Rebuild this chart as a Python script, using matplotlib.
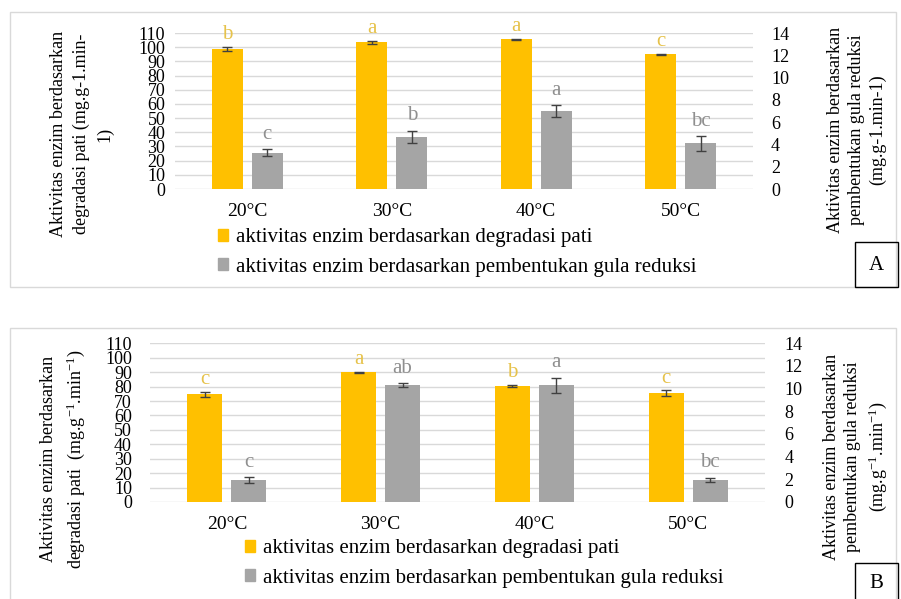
import matplotlib
matplotlib.use("Agg")
import matplotlib.pyplot as plt
from matplotlib.patches import Rectangle, Patch

plt.rcParams['font.family'] = ['Liberation Serif', 'DejaVu Serif']
plt.rcParams['mathtext.fontset'] = 'custom'
plt.rcParams['mathtext.rm'] = 'Liberation Serif'
plt.rcParams['mathtext.it'] = 'Liberation Serif:italic'
plt.rcParams['mathtext.default'] = 'rm'

# ---------------- data ----------------
categories = ["20°C", "30°C", "40°C", "50°C"]

a_starch = [98.7, 103.4, 105.5, 95.0]
a_starch_err = [1.5, 1.3, 0.4, 0.5]
a_sugar = [3.25, 4.7, 7.0, 4.1]
a_sugar_err = [0.3, 0.55, 0.5, 0.65]
a_starch_letters = ["b", "a", "a", "c"]
a_sugar_letters = ["c", "b", "a", "bc"]

b_starch = [74.6, 89.9, 80.4, 75.5]
b_starch_err = [1.8, 0.5, 1.0, 1.9]
b_sugar = [1.95, 10.3, 10.3, 1.97]
b_sugar_err = [0.24, 0.16, 0.66, 0.18]
b_starch_letters = ["c", "a", "b", "c"]
b_sugar_letters = ["c", "ab", "a", "bc"]

left_ticks = list(range(0, 111, 10))
right_ticks = list(range(0, 15, 2))

legend_labels = ["aktivitas enzim berdasarkan degradasi pati",
                 "aktivitas enzim berdasarkan pembentukan gula reduksi"]

# ---------------- style ----------------
ORANGE = "#FFC000"
GRAY = "#A5A5A5"
ORANGE_TXT = "#E6C24A"
GRAY_TXT = "#8F8F8F"
GRID = "#D9D9D9"
ERR = "#404040"

W, H = 901, 599
fig = plt.figure(figsize=(W / 100, H / 100), dpi=100)


def fx(px):
    return px / W


def fy(py):
    return 1 - py / H


def frame(x0, y0, x1, y1, color, lw):
    fig.patches.append(Rectangle((fx(x0), fy(y1)), fx(x1) - fx(x0), fy(y0) - fy(y1),
                                 transform=fig.transFigure, fill=False,
                                 edgecolor=color, linewidth=lw, zorder=0))


def panel(left, right, top, bottom, starch, starch_err, sugar, sugar_err,
          s_letters, g_letters, offset, width, lpad, rpad):
    ax = fig.add_axes([fx(left), fy(bottom), fx(right) - fx(left), fy(top) - fy(bottom)])
    ax2 = ax.twinx()
    x = list(range(len(categories)))
    ax.bar([i - offset for i in x], starch, width=width, color=ORANGE, yerr=starch_err,
           capsize=3.5, error_kw=dict(ecolor=ERR, elinewidth=1.0, capthick=1.0), zorder=3)
    ax2.bar([i + offset for i in x], sugar, width=width, color=GRAY, yerr=sugar_err,
            capsize=3.5, error_kw=dict(ecolor=ERR, elinewidth=1.0, capthick=1.0), zorder=3)
    for i in x:
        ax.annotate(s_letters[i], xy=(i - offset, starch[i] + starch_err[i]),
                    xytext=(0, 2), textcoords="offset points", ha="center", va="bottom",
                    fontsize=15, color=ORANGE_TXT)
        ax2.annotate(g_letters[i], xy=(i + offset, sugar[i] + sugar_err[i]),
                     xytext=(0, 4), textcoords="offset points", ha="center", va="bottom",
                     fontsize=15, color=GRAY_TXT)
    ax.set_xlim(-0.5, len(categories) - 0.5)
    ax.set_ylim(0, 110)
    ax2.set_ylim(0, 14)
    ax.set_yticks(left_ticks)
    ax2.set_yticks(right_ticks)
    ax.set_xticks(x, categories)
    ax.set_axisbelow(True)
    ax.yaxis.grid(True, color=GRID, linewidth=1.0)
    for a in (ax, ax2):
        for s in a.spines.values():
            s.set_visible(False)
    ax.tick_params(axis="y", length=0, pad=lpad, labelsize=13)
    ax.tick_params(axis="x", length=0, pad=10, labelsize=14)
    ax2.tick_params(axis="y", length=0, pad=rpad, labelsize=13)
    ax.patch.set_alpha(0)
    return ax


# ---------------- panel A ----------------
frame(10, 12, 896, 287, "#D9D9D9", 1.0)
panel(175, 753, 33, 189, a_starch, a_starch_err, a_sugar, a_sugar_err,
      a_starch_letters, a_sugar_letters, 0.139, 0.215, 7, 13)
fig.text(fx(82), fy(134), "Aktivitas enzim berdasarkan\ndegradasi pati (mg.g-1.min-\n1)",
         rotation=90, ha="center", va="center", multialignment="center",
         fontsize=13, linespacing=1.45)
fig.text(fx(857), fy(130), "Aktivitas enzim berdasarkan\npembentukan gula reduksi\n(mg.g-1.min-1)",
         rotation=90, ha="center", va="center", multialignment="center",
         fontsize=13, linespacing=1.3)
handles = [Patch(color=ORANGE), Patch(color=GRAY)]
fig.legend(handles, legend_labels, loc="center left", bbox_to_anchor=(fx(218), fy(252.5)),
           frameon=False, fontsize=15, handlelength=0.5, handleheight=0.5,
           handletextpad=0.35, labelspacing=0.5, borderpad=0, borderaxespad=0)
frame(855, 242, 898, 287, "black", 1.0)
fig.text(fx(876.5), fy(265), "A", ha="center", va="center", fontsize=15)

# ---------------- panel B ----------------
frame(10, 328, 896, 610, "#D9D9D9", 1.0)
panel(150, 765, 343.3, 502, b_starch, b_starch_err, b_sugar, b_sugar_err,
      b_starch_letters, b_sugar_letters, 0.143, 0.228, 13, 14)
fig.text(fx(63.5), fy(459), "Aktivitas enzim berdasarkan\ndegradasi pati  (mg.g$^{-1}$.min$^{-1}$)",
         rotation=90, ha="center", va="center", multialignment="center",
         fontsize=13, linespacing=1.45)
fig.text(fx(856), fy(457), "Aktivitas enzim berdasarkan\npembentukan gula reduksi\n(mg.g$^{-1}$.min$^{-1}$)",
         rotation=90, ha="center", va="center", multialignment="center",
         fontsize=13, linespacing=1.3)
fig.legend(handles, legend_labels, loc="center left", bbox_to_anchor=(fx(245), fy(563.5)),
           frameon=False, fontsize=15, handlelength=0.5, handleheight=0.5,
           handletextpad=0.35, labelspacing=0.5, borderpad=0, borderaxespad=0)
frame(855, 563, 898, 610, "black", 1.0)
fig.text(fx(876.5), fy(583), "B", ha="center", va="center", fontsize=15)

fig.savefig("out.png", dpi=100)
